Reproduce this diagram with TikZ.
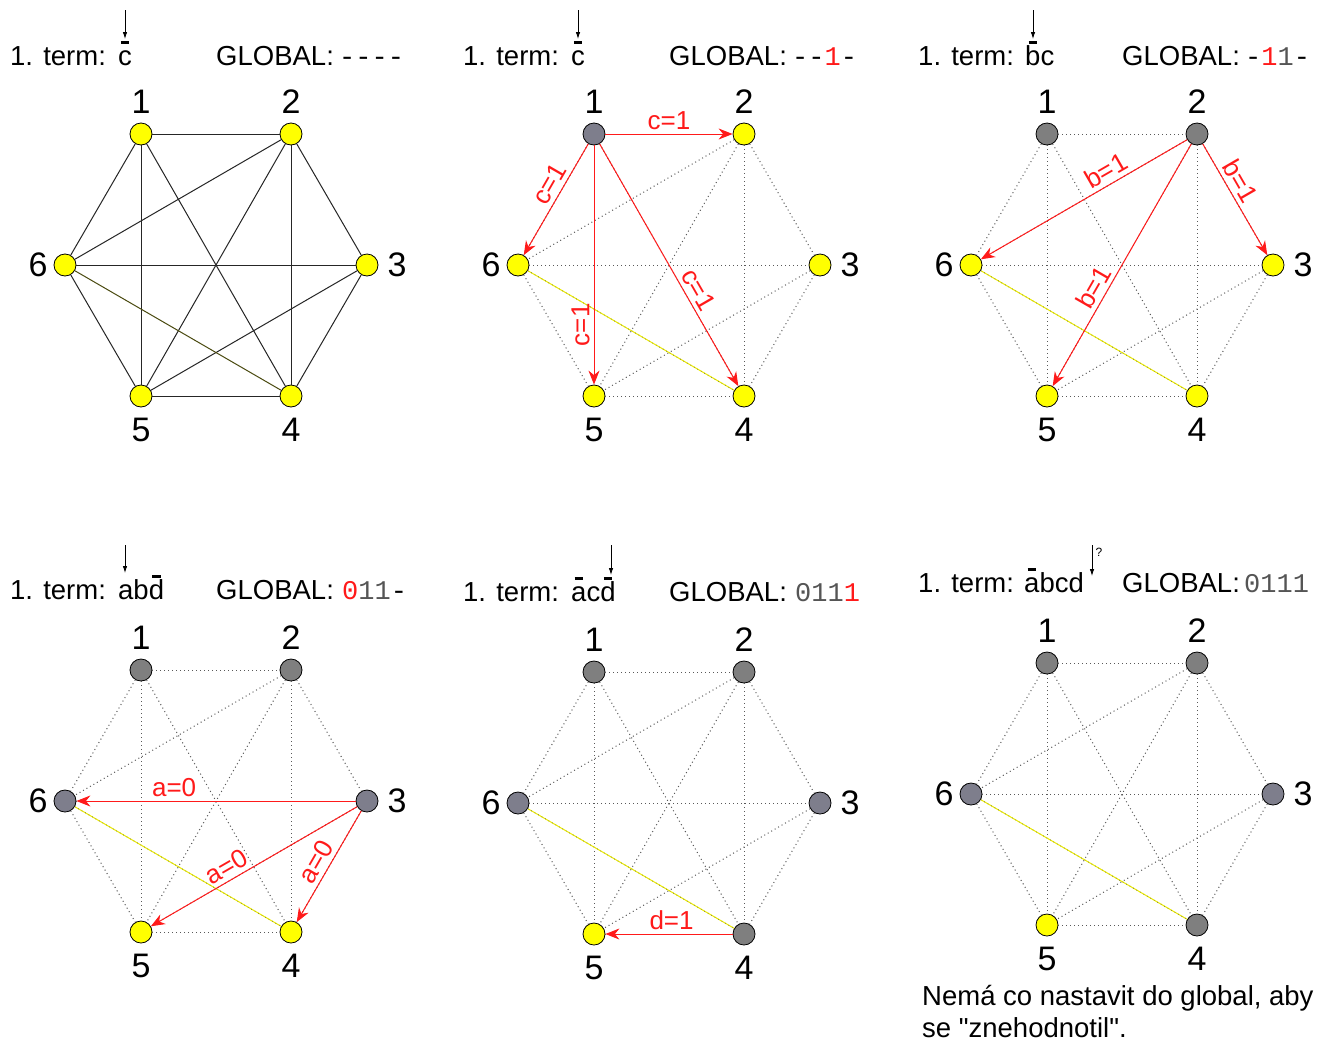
\documentclass[tikz,border=0pt]{standalone}
\usepackage{fontspec}
\setmainfont[Ligatures=TeXOff]{Liberation Sans}
\newfontfamily\monofam[Ligatures=TeXOff]{Liberation Mono}
\usetikzlibrary{arrows.meta}

\definecolor{vyellow}{HTML}{FFFF00}
\definecolor{vgray}{HTML}{7F7F7F}
\definecolor{vslate}{HTML}{7E7E8C}
\definecolor{digitgray}{HTML}{555555}
\definecolor{olivedark}{HTML}{4A4A10}
\definecolor{setred}{HTML}{FF1A1A}

% letter with a short bar above it (negated literal)
\newcommand\obar[1]{\ooalign{#1\cr\hidewidth\rule[0.78em]{0.3em}{0.075em}\hidewidth\cr}}

% six vertices of one graph plus their numbers; #1 prefix, #2..#7 fills
\newcommand\hexnodes[7]{%
  \node[vtx,fill=#2] (#1-1) at (0,0) {};
  \node[vtx,fill=#3] (#1-2) at (150,0) {};
  \node[vtx,fill=#4] (#1-3) at (226,131) {};
  \node[vtx,fill=#5] (#1-4) at (150,262) {};
  \node[vtx,fill=#6] (#1-5) at (0,262) {};
  \node[vtx,fill=#7] (#1-6) at (-76,131) {};
  \node[num] (#1-t1) at (0,-32) {1};
  \node[num] (#1-t2) at (150,-32) {2};
  \node[num] (#1-t3) at (256,131) {3};
  \node[num] (#1-t4) at (150,296) {4};
  \node[num] (#1-t5) at (0,296) {5};
  \node[num] (#1-t6) at (-103,131) {6};
}
% edges of the graph; #1 prefix, #2 style of ordinary edges, #3 style of edge 6-4
\newcommand\hexedges[3]{%
  \foreach \a/\b in {1/2,1/6,1/5,1/4,2/6,2/5,2/3,2/4,6/3,6/5,3/5,3/4,5/4}
    \draw[#2] (#1-\a) -- (#1-\b);
  \draw[#3] (#1-6) -- (#1-4);
}

\begin{document}
\begin{tikzpicture}[
  x=1pt, y=-1pt,
  vtx/.style={circle, draw=black, line width=0.8pt, minimum size=22pt, inner sep=0pt},
  num/.style={font=\fontsize{34}{34}\selectfont, inner sep=0pt},
  hdr/.style={font=\fontsize{27.5}{32}\selectfont, inner sep=0pt, anchor=base west},
  mono/.style={hdr, font=\monofam\fontsize{27}{32}\selectfont},
  solidedge/.style={line width=1pt, black!85},
  oliveedge/.style={line width=1pt, olivedark},
  dots/.style={line width=1pt, black!65, dash pattern=on 1pt off 3pt},
  yellowedge/.style={line width=1pt, vyellow!92!black,
    postaction={draw=black!75, line width=0.6pt, dash pattern=on 0.6pt off 3.4pt}},
  setarrow/.style={setred, line width=1pt, -{Stealth[length=14pt,width=11pt,inset=4.5pt]}},
  elab/.style={text=setred, font=\fontsize{26}{26}\selectfont, inner sep=4pt, anchor=south},
  pointer/.style={line width=0.8pt, -{Latex[length=7pt,width=4.5pt]}},
]
\useasboundingbox[fill=white] (0,0) rectangle (1320,1042);

% ---------------- headers, first row ----------------
\node[hdr] (h1-lbl) at (10,65) {1. term:};
\node[hdr] (h1-term) at (118,65) {\obar{c}};
\node[hdr] (h1-glob) at (216,65) {GLOBAL:};
\node[mono] (h1-val) at (339,65) {----};
\coordinate (h1-p0) at (125,10); \coordinate (h1-p1) at (125,39);
\draw[pointer] (h1-p0) -- (h1-p1);

\node[hdr] (h2-lbl) at (463,65) {1. term:};
\node[hdr] (h2-term) at (571,65) {\obar{c}};
\node[hdr] (h2-glob) at (669,65) {GLOBAL:};
\node[mono] (h2-val) at (792,65) {--{\color{setred}1}-};
\coordinate (h2-p0) at (578,10); \coordinate (h2-p1) at (578,39);
\draw[pointer] (h2-p0) -- (h2-p1);

\node[hdr] (h3-lbl) at (918,65) {1. term:};
\node[hdr] (h3-term) at (1025,65) {\obar{b}c};
\node[hdr] (h3-glob) at (1122,65) {GLOBAL:};
\node[mono] (h3-val) at (1245,65) {-{\color{setred}1}{\color{digitgray}1}-};
\coordinate (h3-p0) at (1033,10); \coordinate (h3-p1) at (1033,39);
\draw[pointer] (h3-p0) -- (h3-p1);

% ---------------- headers, second row ----------------
\node[hdr] (h4-lbl) at (10,599) {1. term:};
\node[hdr] (h4-term) at (118,599) {ab\obar{d}};
\node[hdr] (h4-glob) at (216,599) {GLOBAL:};
\node[mono] (h4-val) at (342,599) {{\color{setred}0}{\color{digitgray}11}-};
\coordinate (h4-p0) at (125,545); \coordinate (h4-p1) at (125,573);
\draw[pointer] (h4-p0) -- (h4-p1);

\node[hdr] (h5-lbl) at (463,601) {1. term:};
\node[hdr] (h5-term) at (571,601) {\obar{a}c\obar{d}};
\node[hdr] (h5-glob) at (669,601) {GLOBAL:};
\node[mono] (h5-val) at (795,601) {{\color{digitgray}011}{\color{setred}1}};
\coordinate (h5-p0) at (611,545); \coordinate (h5-p1) at (611,575);
\draw[pointer] (h5-p0) -- (h5-p1);

\node[hdr] (h6-lbl) at (918,592) {1. term:};
\node[hdr] (h6-term) at (1024,592) {\obar{a}bcd};
\node[hdr] (h6-glob) at (1122,592) {GLOBAL:};
\node[mono] (h6-val) at (1244,592) {{\color{digitgray}0111}};
\coordinate (h6-p0) at (1092,545); \coordinate (h6-p1) at (1092,576);
\draw[pointer] (h6-p0) -- (h6-p1);
\node[font=\fontsize{12}{12}\selectfont, inner sep=0pt] (h6-q) at (1099,552) {?};

% ---------------- graph 1: the whole graph ----------------
\begin{scope}[shift={(141,134)}]
  \hexnodes{g1}{vyellow}{vyellow}{vyellow}{vyellow}{vyellow}{vyellow}
  \hexedges{g1}{solidedge}{oliveedge}
\end{scope}

% ---------------- graph 2: vertex 1 sets c=1 ----------------
\begin{scope}[shift={(594,134)}]
  \hexnodes{g2}{vslate}{vyellow}{vyellow}{vyellow}{vyellow}{vyellow}
  \hexedges{g2}{dots}{yellowedge}
  \draw[setarrow] (g2-1) -- node[elab] {c=1} (g2-2);
  \draw[setarrow] (g2-1) -- node[elab, pos=0.42, rotate=60] {c=1} (g2-6);
  \draw[setarrow] (g2-1) -- node[elab, pos=0.75, rotate=90] {c=1} (g2-5);
  \draw[setarrow] (g2-1) -- node[elab, pos=0.63, rotate=-60] {c=1} (g2-4);
\end{scope}

% ---------------- graph 3: vertex 2 sets b=1 ----------------
\begin{scope}[shift={(1047,134)}]
  \hexnodes{g3}{vgray}{vgray}{vyellow}{vyellow}{vyellow}{vyellow}
  \hexedges{g3}{dots}{yellowedge}
  \draw[setarrow] (g3-2) -- node[elab, pos=0.36, rotate=30] {b=1} (g3-6);
  \draw[setarrow] (g3-2) -- node[elab, pos=0.40, rotate=-60] {b=1} (g3-3);
  \draw[setarrow] (g3-2) -- node[elab, pos=0.62, rotate=60] {b=1} (g3-5);
\end{scope}

% ---------------- graph 4: vertex 3 sets a=0 ----------------
\begin{scope}[shift={(141,670)}]
  \hexnodes{g4}{vgray}{vgray}{vslate}{vyellow}{vyellow}{vslate}
  \hexedges{g4}{dots}{yellowedge}
  \draw[setarrow] (g4-3) -- node[elab, pos=0.65] {a=0} (g4-6);
  \draw[setarrow] (g4-3) -- node[elab, pos=0.60, rotate=30] {a=0} (g4-5);
  \draw[setarrow] (g4-3) -- node[elab, pos=0.52, rotate=60] {a=0} (g4-4);
\end{scope}

% ---------------- graph 5: vertex 4 sets d=1 ----------------
\begin{scope}[shift={(594,672)}]
  \hexnodes{g5}{vgray}{vgray}{vslate}{vgray}{vyellow}{vslate}
  \hexedges{g5}{dots}{yellowedge}
  \draw[setarrow] (g5-4) -- node[elab, pos=0.48] {d=1} (g5-5);
\end{scope}

% ---------------- graph 6: nothing left to set ----------------
\begin{scope}[shift={(1047,663)}]
  \hexnodes{g6}{vgray}{vgray}{vslate}{vgray}{vyellow}{vslate}
  \hexedges{g6}{dots}{yellowedge}
\end{scope}

\node[hdr] (note1) at (922,1005) {Nemá co nastavit do global, aby};
\node[hdr] (note2) at (922,1037) {se "znehodnotil".};
\end{tikzpicture}
\end{document}
